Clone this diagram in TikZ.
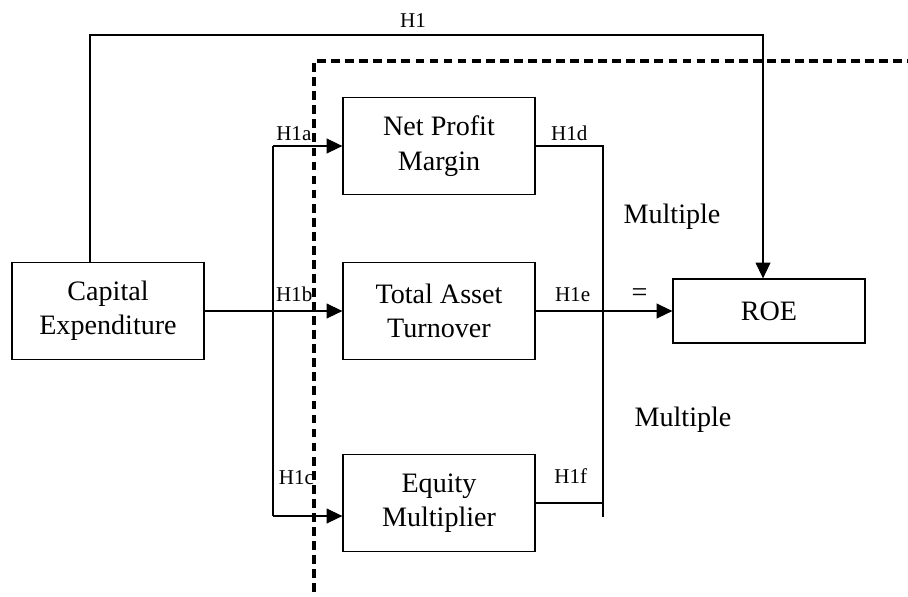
\documentclass[tikz,border=0pt]{standalone}
\usepackage{fontspec}
\setmainfont{Liberation Serif}
\usetikzlibrary{arrows.meta,positioning}

\begin{document}
\begin{tikzpicture}[x=0.02cm,y=-0.02cm,line width=0.6pt,
    >={Triangle[length=9pt,width=8.5pt]},
    box/.style={rectangle,draw,line width=0.75pt,minimum width=3.84cm,minimum height=1.94cm,align=center,font=\fontsize{16}{19.5}\selectfont},
    lab/.style={font=\fontsize{12}{14}\selectfont,inner sep=1pt},
    big/.style={font=\fontsize{16}{19.5}\selectfont},
    divide/.style={line width=2pt,dash pattern=on 5pt off 3pt}]

    \useasboundingbox (0,0) rectangle (908,596);

    \node[box] (cap) at (108,311) {Capital\\Expenditure};
    \node[box] (npm) at (439,146) {Net Profit\\Margin};
    \node[box] (tat) at (439,311) {Total Asset\\Turnover};
    \node[box] (em) at (439,503) {Equity\\Multiplier};
    \node[box, minimum height=1.28cm] (roe) at (769,311) {ROE};

    \coordinate (h1s) at (90,0);
    \coordinate (htop) at (763,35);
    \coordinate (lb) at (273,0);
    \coordinate (lbot) at (273,516);
    \coordinate (rb) at (603,0);
    \coordinate (rbot) at (603,517);
    \coordinate (dbot) at (314,592);
    \coordinate (dtop) at (314,61);
    \coordinate (dend) at (908,61);

    % overall path
    \draw[->] (h1s |- cap.north) |- node[lab,pos=0.74,above=3pt]{H1} (htop) -- (htop |- roe.north);

    % left bracket
    \draw (lb |- npm.west) -- node[lab,pos=0.895,right=2pt]{H1c} (lbot);
    \draw[->] (lb |- npm.west) -- node[lab,pos=0.3,above=2pt]{H1a} (npm.west);
    \draw[->] (cap.east) -- node[lab,pos=0.65,above=4pt]{H1b} (tat.west);
    \draw[->] (lbot) -- (lbot -| em.west);

    % right bracket
    \draw (npm.east) -- node[lab,above=2pt]{H1d} (rb |- npm.east) -- (rbot);
    \draw[->] (tat.east) -- node[lab,pos=0.27,above=4pt]{H1e} node[big,pos=0.76,above=2pt]{=} (roe.west);
    \draw (em.east) -- node[lab,pos=0.52,above=10pt]{H1f} (rb |- em.east);

    \node[big] (mul1) at (672,217) {Multiple};
    \node[big] (mul2) at (683,420) {Multiple};

    % boundary
    \draw[divide] (dbot) -- (dtop) -- (dend);
\end{tikzpicture}
\end{document}
